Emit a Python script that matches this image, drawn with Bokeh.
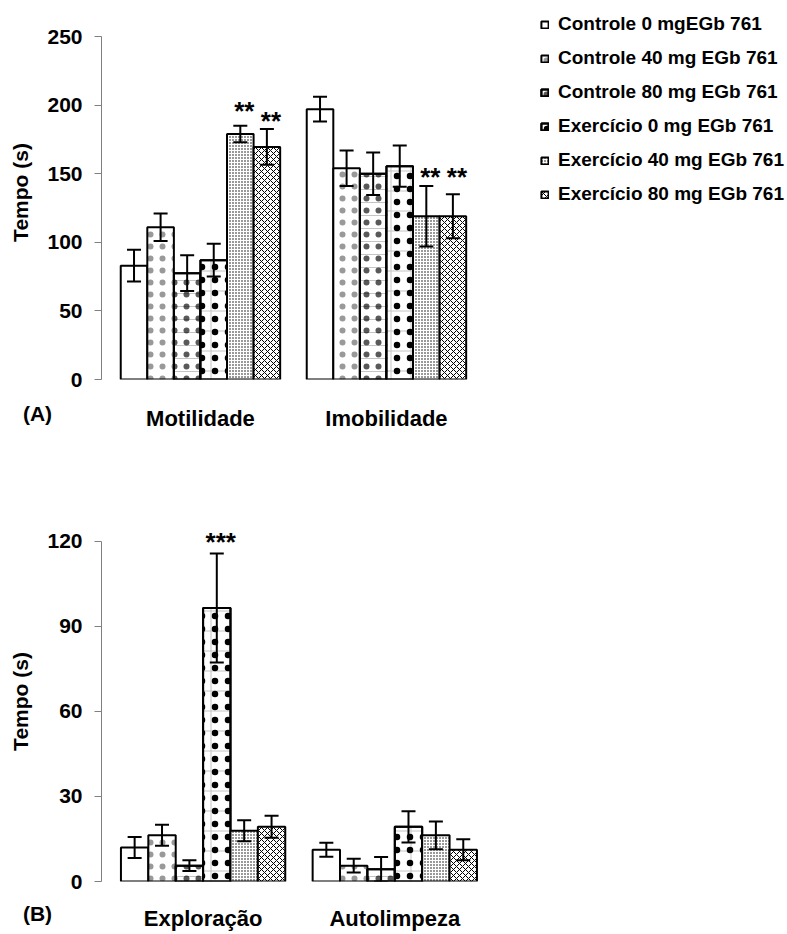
from bokeh.plotting import figure
from bokeh.models import (ColumnDataSource, Range1d, Whisker, TeeHead,
                          Legend, LegendItem, FixedTicker)
from bokeh.transform import dodge
from bokeh.layouts import column
from bokeh.embed import file_html
from bokeh.resources import INLINE
from bokeh.core.properties import value

FONT = "Liberation Sans"

series_names = ["Controle 0 mgEGb 761", "Controle 40 mg EGb 761", "Controle 80 mg EGb 761",
                "Exercício 0 mg EGb 761", "Exercício 40 mg EGb 761", "Exercício 80 mg EGb 761"]

# ---- Panel A ----
cats_a = ["Motilidade", "Imobilidade"]
ctrl0_a = [83, 197]
ctrl40_a = [111, 154]
ctrl80_a = [77.5, 150]
exer0_a = [87, 155.5]
exer40_a = [179, 119]
exer80_a = [169.5, 119]
ctrl0_a_sem = [11.5, 9]
ctrl40_a_sem = [10, 13]
ctrl80_a_sem = [13, 15.5]
exer0_a_sem = [12, 15]
exer40_a_sem = [6, 22]
exer80_a_sem = [13, 16]
ticks_a = [0, 50, 100, 150, 200, 250]
star_cat_a = ["Motilidade", "Motilidade", "Imobilidade", "Imobilidade"]
star_idx_a = [4, 5, 4, 5]
star_y_a = [197.5, 190, 149, 149]
star_txt_a = ["**", "**", "**", "**"]

# ---- Panel B ----
cats_b = ["Exploração", "Autolimpeza"]
ctrl0_b = [12, 11.2]
ctrl40_b = [16.3, 5.6]
ctrl80_b = [5.6, 4.3]
exer0_b = [96.5, 19.3]
exer40_b = [17.9, 16.3]
exer80_b = [19.3, 11.2]
ctrl0_b_sem = [3.7, 2.5]
ctrl40_b_sem = [3.7, 2.4]
ctrl80_b_sem = [1.9, 4.3]
exer0_b_sem = [19.2, 5.5]
exer40_b_sem = [3.7, 4.9]
exer80_b_sem = [3.9, 3.7]
ticks_b = [0, 30, 60, 90, 120]
star_cat_b = ["Exploração"]
star_idx_b = [3]
star_y_b = [120.6]
star_txt_b = ["***"]

# fill layers per series: (fill_color, fill_alpha, hatch_pattern, hatch_color, hatch_scale, hatch_weight, hatch_alpha)
styles = [
    [("white", 1, None, "black", 1, 1, 1)],
    [("white", 1, "dot", "black", 12, 0.3, 0.4)],
    [("white", 1, "horizontal_line", "#c4c4c4", 13, 1, 1), (None, 0, "dot", "black", 12, 0.3, 0.65)],
    [("white", 1, "cross", "#c4c4c4", 20, 1, 1), (None, 0, "dot", "black", 13, 0.5, 1)],
    [("white", 1, "dot", "black", 3, 0.5, 1)],
    [("white", 1, "diagonal_cross", "black", 6, 1, 1)],
]


def make_panel(cats, means, sems, ticks, y_end, y_top, star_cat, star_idx, star_y, star_txt,
               height, min_top, min_bottom, unit_px, pad, label_standoff, letter, letter_pos):
    frame_w = 787 - 101
    x_start = -pad
    x_end = x_start + frame_w / unit_px
    p = figure(x_range=Range1d(x_start, x_end), y_range=Range1d(0, y_top),
               width=787, height=height, output_backend="svg", toolbar_location=None,
               min_border_left=101, min_border_right=0,
               min_border_top=min_top, min_border_bottom=min_bottom)
    p.outline_line_color = None
    p.grid.visible = False
    p.background_fill_color = "white"
    p.border_fill_color = "white"

    centers = [k + 0.5 for k in range(len(cats))]
    items = []
    nser = len(means)
    for i in range(nser):
        off = (i - (nser - 1) / 2) / (nser + 1)
        m = means[i]
        s = sems[i]
        src = ColumnDataSource(dict(gx=centers, mean=m,
                                    upper=[a + b for a, b in zip(m, s)],
                                    lower=[a - b for a, b in zip(m, s)]))
        rends = []
        for (fc, fa, hp, hc, hs, hw, ha) in styles[i]:
            kw = dict(fill_color=fc, fill_alpha=fa, line_color="black", line_width=2)
            if hp:
                kw.update(hatch_pattern=hp, hatch_color=hc, hatch_scale=hs,
                          hatch_weight=hw, hatch_alpha=ha)
            r = p.vbar(x=dodge("gx", off), top="mean", width=1 / (nser + 1),
                       bottom=0, source=src, **kw)
            rends.append(r)
        items.append(LegendItem(label=series_names[i], renderers=rends))
        w = Whisker(base=dodge("gx", off), upper="upper", lower="lower",
                    source=src, line_width=2, line_color="black",
                    upper_head=TeeHead(size=14, line_width=2, line_color="black"),
                    lower_head=TeeHead(size=14, line_width=2, line_color="black"),
                    level="annotation")
        p.add_layout(w)

    for k in sorted(set(star_idx)):
        off = (k - (nser - 1) / 2) / (nser + 1)
        sel = [j for j in range(len(star_idx)) if star_idx[j] == k]
        ssrc = ColumnDataSource(dict(gx=[centers[cats.index(star_cat[j])] for j in sel],
                                     y=[star_y[j] for j in sel],
                                     t=[star_txt[j] for j in sel]))
        p.text(x=dodge("gx", off), y="y", text="t", source=ssrc,
               text_font=value(FONT), text_font_style="bold", text_font_size="26px",
               text_align="center", text_baseline="middle", x_offset=4, y_offset=2,
               text_color="black")

    # panel letter, drawn outside the frame
    lx = x_start + (letter_pos[0] - 101) / unit_px
    ly = -(letter_pos[1]) * y_top / (p.height - min_top - min_bottom)
    p.text(x=[lx], y=[ly], text=[letter], text_font=value(FONT), text_font_style="bold",
           text_font_size="21px", text_align="center", text_baseline="middle",
           text_color="black", level="overlay")

    ya = p.yaxis[0]
    ya.ticker = FixedTicker(ticks=ticks)
    ya.bounds = (0, y_end)
    ya.minor_tick_line_color = None
    ya.axis_line_color = "#808080"
    ya.major_tick_line_color = "#808080"
    ya.major_tick_out = 7
    ya.major_tick_in = 0
    ya.major_label_standoff = 12
    ya.major_label_text_font = FONT
    ya.major_label_text_font_style = "bold"
    ya.major_label_text_font_size = "21px"
    ya.major_label_text_color = "black"
    ya.axis_label = "Tempo (s)"
    ya.axis_label_text_font = FONT
    ya.axis_label_text_font_style = "bold"
    ya.axis_label_text_font_size = "21px"
    ya.axis_label_text_color = "black"
    ya.axis_label_standoff = 12

    xa = p.xaxis[0]
    xa.ticker = FixedTicker(ticks=centers)
    xa.major_label_overrides = {c: name for c, name in zip(centers, cats)}
    xa.minor_tick_line_color = None
    xa.axis_line_color = None
    xa.major_tick_line_color = None
    xa.major_tick_out = 0
    xa.major_tick_in = 0
    xa.major_label_standoff = label_standoff
    xa.major_label_text_font = FONT
    xa.major_label_text_font_style = "bold"
    xa.major_label_text_font_size = "22px"
    xa.major_label_text_color = "black"
    return p, items


p1, items1 = make_panel(cats_a,
                        [ctrl0_a, ctrl40_a, ctrl80_a, exer0_a, exer40_a, exer80_a],
                        [ctrl0_a_sem, ctrl40_a_sem, ctrl80_a_sem, exer0_a_sem, exer40_a_sem, exer80_a_sem],
                        ticks_a, 250, 272.6, star_cat_a, star_idx_a, star_y_a, star_txt_a,
                        height=440, min_top=5, min_bottom=61, unit_px=186, pad=0.032,
                        label_standoff=26, letter="(A)", letter_pos=(37, 34))
leg = Legend(items=items1, location=(439, 174), glyph_width=9, glyph_height=9,
             label_standoff=9, label_text_font=FONT, label_text_font_style="bold",
             label_text_font_size="19px", label_text_color="black", label_height=20,
             spacing=12, padding=0, margin=0, border_line_alpha=0, background_fill_alpha=0)
p1.add_layout(leg)

p2, items2 = make_panel(cats_b,
                        [ctrl0_b, ctrl40_b, ctrl80_b, exer0_b, exer40_b, exer80_b],
                        [ctrl0_b_sem, ctrl40_b_sem, ctrl80_b_sem, exer0_b_sem, exer40_b_sem, exer80_b_sem],
                        ticks_b, 120, 127, star_cat_b, star_idx_b, star_y_b, star_txt_b,
                        height=493, min_top=81, min_bottom=50, unit_px=191.7, pad=0.03,
                        label_standoff=24, letter="(B)", letter_pos=(37, 32))

layout = column(p1, p2, spacing=0)
open("out.html", "w").write(file_html(layout, INLINE))
